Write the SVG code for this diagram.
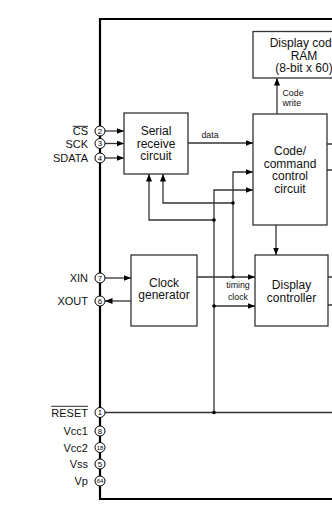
<svg xmlns="http://www.w3.org/2000/svg" width="332" height="507" viewBox="0 0 332 507">
<defs>
<style>
.box{fill:#fff;stroke:#333;stroke-width:1.3}
.frame{fill:none;stroke:#000;stroke-width:2.2}
.ln{fill:none;stroke:#333;stroke-width:1.3}
.arr{marker-end:url(#ah)}
.pin{fill:#fff;stroke:#000;stroke-width:1}
.bt{font-family:"Liberation Sans",Arial,sans-serif;font-size:12px;fill:#111;text-anchor:middle}
.pl{font-family:"Liberation Sans",Arial,sans-serif;font-size:11px;fill:#111;text-anchor:end}
.sl{font-family:"Liberation Sans",Arial,sans-serif;font-size:8.8px;fill:#111}
.pn{font-family:"Liberation Sans",Arial,sans-serif;font-size:7.8px;fill:#000;text-anchor:middle}
.pns{font-family:"Liberation Sans",Arial,sans-serif;font-size:6px;fill:#000;text-anchor:middle}
.dot{fill:#000}
</style>
<marker id="ah" markerUnits="userSpaceOnUse" markerWidth="8" markerHeight="6" refX="7.5" refY="3" orient="auto">
<path d="M0,0 L7.5,3 L0,6 z" fill="#000"/>
</marker>
</defs>
<rect width="332" height="507" fill="#fff"/>
<path class="frame" d="M340,19 H100 V499 H340"/>

<g id="connectors">
<path class="ln arr" d="M105,131 H124"/>
<path class="ln arr" d="M105,143.5 H124"/>
<path class="ln arr" d="M105,158 H124"/>
<path class="ln arr" d="M188,143 H253"/>
<path class="ln arr" d="M277,114 V78"/>
<path class="ln arr" d="M276,225 V255"/>
<path class="ln arr" d="M233,277 V172 H253"/>
<path class="ln arr" d="M214,412.5 V190 H253"/>
<path class="ln arr" d="M233,203 H163 V174"/>
<path class="ln arr" d="M214,220 H149 V174"/>
<path class="ln arr" d="M197,277 H255"/>
<path class="ln arr" d="M214,306 H255"/>
<path class="ln arr" d="M105,278 H131"/>
<path class="ln arr" d="M131,301 H105"/>
<path class="ln" d="M105,412.5 H332"/>
<path class="ln" d="M327,144 H332 M327,170 H332 M328,277 H332 M328,305 H332"/>
<circle class="dot" cx="233" cy="203" r="1.8"/>
<circle class="dot" cx="214" cy="220" r="1.8"/>
<circle class="dot" cx="233" cy="277" r="1.8"/>
<circle class="dot" cx="214" cy="306" r="1.8"/>
<circle class="dot" cx="214" cy="412.5" r="1.8"/>
<text class="sl" x="210" y="138.3" text-anchor="middle">data</text>
<text class="sl" x="282.5" y="95.5">Code</text>
<text class="sl" x="282.5" y="105.5">write</text>
<text class="sl" x="238" y="288" text-anchor="middle">timing</text>
<text class="sl" x="238" y="300" text-anchor="middle">clock</text>
</g>

<g id="ram">
<rect class="box" x="253" y="31.5" width="104" height="46.5"/>
<text class="bt" x="304" y="47">Display  code</text>
<text class="bt" x="304" y="59.5">RAM</text>
<text class="bt" x="304" y="72">(8-bit x 60)</text>
</g>

<g id="code-command">
<rect class="box" x="253" y="114" width="74" height="111"/>
<text class="bt" x="290" y="155">Code/</text>
<text class="bt" x="290" y="167.5">command</text>
<text class="bt" x="290" y="180">control</text>
<text class="bt" x="290" y="192.5">circuit</text>
</g>

<g id="serial">
<rect class="box" x="124" y="113" width="64" height="61"/>
<text class="bt" x="156" y="135">Serial</text>
<text class="bt" x="156" y="147.5">receive</text>
<text class="bt" x="156" y="160">circuit</text>
</g>

<g id="clock">
<rect class="box" x="131" y="255" width="66" height="71"/>
<text class="bt" x="164" y="286.5">Clock</text>
<text class="bt" x="164" y="299">generator</text>
</g>

<g id="display-controller">
<rect class="box" x="255" y="255" width="73" height="71"/>
<text class="bt" x="291.5" y="289">Display</text>
<text class="bt" x="291.5" y="302">controller</text>
</g>

<g id="pin-cs">
<circle class="pin" cx="100" cy="131" r="5"/>
<text class="pn" x="100" y="133.8">2</text>
<text class="pl" x="88" y="135">CS</text>
<line x1="72.7" y1="126.3" x2="88" y2="126.3" stroke="#111" stroke-width="0.9"/>
</g>
<g id="pin-sck">
<circle class="pin" cx="100" cy="143.5" r="5"/>
<text class="pn" x="100" y="146.3">3</text>
<text class="pl" x="88" y="147.5">SCK</text>
</g>
<g id="pin-sdata">
<circle class="pin" cx="100" cy="158" r="5"/>
<text class="pn" x="100" y="160.8">4</text>
<text class="pl" x="88" y="162">SDATA</text>
</g>
<g id="pin-xin">
<circle class="pin" cx="100" cy="278" r="5"/>
<text class="pn" x="100" y="280.8">7</text>
<text class="pl" x="88" y="282">XIN</text>
</g>
<g id="pin-xout">
<circle class="pin" cx="100" cy="301" r="5"/>
<text class="pn" x="100" y="303.8">6</text>
<text class="pl" x="88" y="305">XOUT</text>
</g>
<g id="pin-reset">
<circle class="pin" cx="100" cy="412.5" r="5"/>
<text class="pn" x="100" y="415.3">1</text>
<text class="pl" x="88" y="416.5">RESET</text>
<line x1="51.3" y1="406.3" x2="88" y2="406.3" stroke="#111" stroke-width="0.9"/>
</g>
<g id="pin-vcc1">
<circle class="pin" cx="100" cy="431" r="5"/>
<text class="pn" x="100" y="433.8">8</text>
<text class="pl" x="88" y="435">Vcc1</text>
</g>
<g id="pin-vcc2">
<circle class="pin" cx="100" cy="447.5" r="5"/>
<text class="pns" x="100" y="449.6">18</text>
<text class="pl" x="88" y="451.5">Vcc2</text>
</g>
<g id="pin-vss">
<circle class="pin" cx="100" cy="464" r="5"/>
<text class="pn" x="100" y="466.8">5</text>
<text class="pl" x="88" y="468">Vss</text>
</g>
<g id="pin-vp">
<circle class="pin" cx="100" cy="481" r="5"/>
<text class="pns" x="100" y="483.1">64</text>
<text class="pl" x="88" y="485">Vp</text>
</g>
</svg>
